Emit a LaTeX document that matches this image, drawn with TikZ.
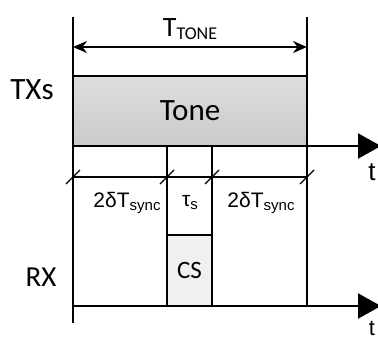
\documentclass[tikz,border=0pt]{standalone}
\usepackage{fontspec}
\setmainfont{Carlito}
\newfontfamily\arialfont{Liberation Sans}
\usetikzlibrary{arrows.meta}

\begin{document}
\begin{tikzpicture}[x=1pt, y=-1pt, line width=2pt, >={Stealth[length=14pt,width=12pt]},
        every node/.style={inner sep=0pt},
        big/.style={font=\fontsize{31}{36}\selectfont},
        dim/.style={font=\arialfont\fontsize{21}{25}\selectfont},
        axis/.style={-{Triangle[length=23pt,width=25pt]}},
        tickmark/.style={line width=1.4pt}]
        \useasboundingbox (0,0) rectangle (378,340);
        % time axes and borders
        \coordinate (a) at (73,17);
        \coordinate (b) at (307,17);
        \coordinate (ta) at (73,146);
        \coordinate (tb) at (381,146);
        \coordinate (ra) at (73,306);
        \coordinate (rb) at (381,306);
        \coordinate (abot) at (73,323);
        \coordinate (bbot) at (307,306);
        \coordinate (c) at (167,146);
        \coordinate (cbot) at (167,306);
        \coordinate (d) at (212,146);
        \coordinate (dbot) at (212,306);
        \node[draw, line width=2.6pt, top color=black!13, bottom color=black!21,
              minimum width=234pt, minimum height=70pt, big] (tone) at (190,111) {Tone};
        \node[draw, fill=black!6, minimum width=45pt, minimum height=71pt,
              font=\fontsize{25}{30}\selectfont] (cs) at (189.5,270.5) {CS};
        \draw (a)--(abot);
        \draw (b)--(bbot);
        \draw (c)--(cbot);
        \draw (d)--(dbot);
        \draw[<->] (73,47)--node[above=6pt, font=\fontsize{28}{32}\selectfont]
              {T\raisebox{-3pt}{\fontsize{18}{20}\selectfont TONE}} (307,47);
        \draw[axis] (ta)--(tb);
        \draw[axis] (ra)--(rb);
        % guard intervals
        \draw[line width=1.6pt] (73,177)--(307,177);
        \foreach \x in {73,167,212,307}
            \draw[tickmark] (\x-7,184)--(\x+7,170);
        \node[dim] (g1) at (127,203) {2δT\raisebox{-3pt}{\fontsize{15}{18}\selectfont sync}};
        \node[dim] (ts) at (190,203) {τ\raisebox{-3pt}{\fontsize{15}{18}\selectfont s}};
        \node[dim] (g2) at (261,203) {2δT\raisebox{-3pt}{\fontsize{15}{18}\selectfont sync}};
        % labels
        \node[big] (txs) at (32,90) {TXs};
        \node[big, font=\fontsize{29}{34}\selectfont] (rx) at (41,277) {RX};
        \node[dim, font=\arialfont\fontsize{26}{30}\selectfont] (t1) at (372,172) {t};
        \node[dim, font=\arialfont\fontsize{22}{26}\selectfont] (t2) at (372,328) {t};
    \end{tikzpicture}
\end{document}
